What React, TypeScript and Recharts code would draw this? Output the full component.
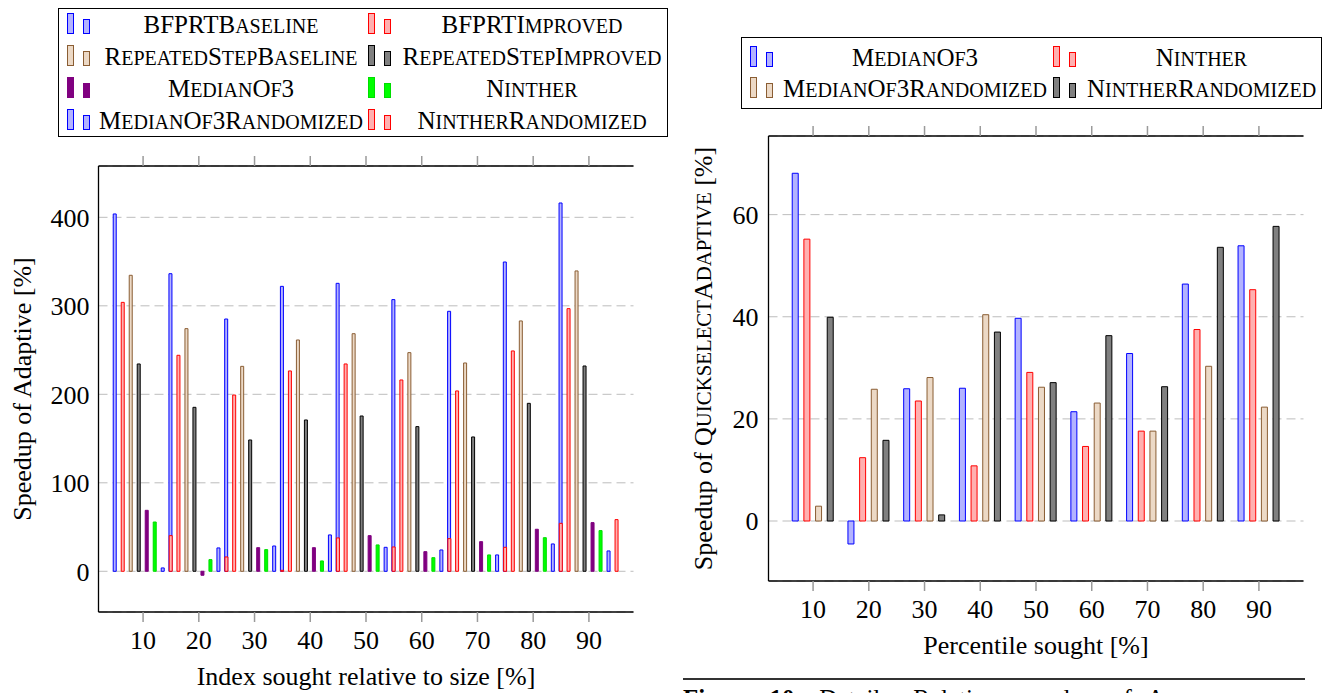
import React from 'react';
import { ComposedChart, Bar, XAxis, YAxis, CartesianGrid, Legend } from 'recharts';

const SERIF = '"Liberation Serif", "Times New Roman", serif';

// x categories (percent) and axis ticks
const percentiles = [10, 20, 30, 40, 50, 60, 70, 80, 90];
const leftYTicks = [0, 100, 200, 300, 400];
const rightYTicks = [0, 20, 40, 60];

// left figure: speedup of Adaptive [%]
const leftSeries = [
  'BFPRTBaseline',
  'BFPRTImproved',
  'RepeatedStepBaseline',
  'RepeatedStepImproved',
  'MedianOf3',
  'Ninther',
  'MedianOf3Randomized',
  'NintherRandomized',
];
const bfprtBaseline = [403.8, 336.3, 285.1, 322, 325.4, 307, 293.8, 349.5, 416.2];
const bfprtImproved = [303.9, 244.1, 199.2, 226.4, 234.3, 216.2, 203.8, 249, 296.8];
const repeatedStepBaseline = [334.5, 274.2, 231.6, 261.4, 268.5, 247.1, 235.4, 282.9, 339.4];
const repeatedStepImproved = [234.3, 185.3, 148.4, 171, 175.5, 163.5, 151.8, 189.8, 232];
const medianOf3Left = [68.9, -4.5, 26.7, 26.7, 40.3, 22.2, 33.5, 47.5, 55];
const nintherLeft = [55.7, 13.2, 24.5, 11.7, 29.8, 15.4, 18.5, 38, 46];
const medianOf3RandomizedLeft = [3.8, 26.4, 28.6, 41.1, 27.1, 24.1, 18.5, 30.9, 23];
const nintherRandomizedLeft = [40.3, 16.2, 1.1, 37.7, 27.5, 36.9, 27.1, 54.2, 58.4];

// right figure: speedup of QuickselectAdaptive [%]
const rightSeries = ['MedianOf3', 'Ninther', 'MedianOf3Randomized', 'NintherRandomized'];
const medianOf3Right = [68.1, -4.5, 25.9, 26, 39.7, 21.4, 32.8, 46.4, 53.9];
const nintherRight = [55.2, 12.4, 23.5, 10.8, 29.1, 14.6, 17.6, 37.5, 45.3];
const medianOf3RandomizedRight = [2.9, 25.8, 28.1, 40.4, 26.2, 23.1, 17.6, 30.3, 22.3];
const nintherRandomizedRight = [39.9, 15.8, 1.2, 37, 27.1, 36.3, 26.3, 53.6, 57.7];

const leftTable = [
  bfprtBaseline,
  bfprtImproved,
  repeatedStepBaseline,
  repeatedStepImproved,
  medianOf3Left,
  nintherLeft,
  medianOf3RandomizedLeft,
  nintherRandomizedLeft,
];
const rightTable = [medianOf3Right, nintherRight, medianOf3RandomizedRight, nintherRandomizedRight];

const buildRows = (names: string[], table: number[][]) =>
  percentiles.map((pct, i) => {
    const row: Record<string, number> = { pct };
    names.forEach((n, k) => (row[n] = table[k][i]));
    return row;
  });

const leftRows = buildRows(leftSeries, leftTable);
const rightRows = buildRows(rightSeries, rightTable);

// styles (pgfplots-like)
const BLUE = { fill: '#b3b3ff', stroke: '#0000ff' };
const RED = { fill: '#ffb0b0', stroke: '#ff0000' };
const BROWN = { fill: '#ecd9c6', stroke: '#8a5d33' };
const GRAY = { fill: '#808080', stroke: '#000000' };
const PURPLE = { fill: '#800080', stroke: '#800080' };
const GREEN = { fill: '#00ff00', stroke: '#00dd00' };
const leftStyles = [BLUE, RED, BROWN, GRAY, PURPLE, GREEN, BLUE, RED];
const rightStyles = [BLUE, RED, BROWN, GRAY];

const X_DOMAIN: [number, number] = [2, 98];
// the 8 bars of a group are wider than the group spacing, so each series gets its own shifted axis
const LEFT_PITCH = 8 / (535 / 96);

const LABEL_SIZE = 26;
const tickFont = { fontSize: 26, fill: '#000', fontFamily: SERIF };
const tickStroke = { stroke: '#9a9a9a', strokeWidth: 1.5 };
const innerTick = { stroke: '#8a8a8a', strokeWidth: 1.3 };
const boxLine = { stroke: '#000', strokeWidth: 1.3 };
const noLabel = () => <g />;

// LaTeX-like small caps: lower-case runs become smaller capitals
const SC = 0.8;
const scParts = (s: string) => s.match(/[a-z]+|[^a-z]+/g) ?? [s];
const ScHtml = ({ text }: { text: string }) => (
  <>
    {scParts(text).map((p, i) =>
      /^[a-z]/.test(p) ? (
        <span key={i} style={{ fontSize: `${SC}em`, textTransform: 'uppercase' }}>
          {p}
        </span>
      ) : (
        <React.Fragment key={i}>{p}</React.Fragment>
      )
    )}
  </>
);
const scSvg = (text: string) =>
  scParts(text).map((p, i) =>
    /^[a-z]/.test(p) ? (
      <tspan key={i} style={{ fontSize: `${SC}em`, textTransform: 'uppercase' }}>
        {p}
      </tspan>
    ) : (
      <tspan key={i}>{p}</tspan>
    )
  );

const LegendIcon = ({ fill, stroke }: { fill: string; stroke: string }) => (
  <svg width={24} height={24} style={{ display: 'block' }}>
    <rect x={0.5} y={0.5} width={6} height={20} fill={fill} stroke={stroke} strokeWidth={1} />
    <rect x={16.5} y={6.5} width={6} height={14} fill={fill} stroke={stroke} strokeWidth={1} />
  </svg>
);

const makeLegend =
  (names: string[], styles: { fill: string; stroke: string }[], cols: string, rowH: number, padTop: number) =>
  (props: any) => {
    const entries = [...(props.payload ?? [])].sort(
      (a: any, b: any) => names.indexOf(a.value) - names.indexOf(b.value)
    );
    return (
      <div
        style={{
          boxSizing: 'border-box',
          width: '100%',
          height: '100%',
          border: '1px solid #000',
          background: '#fff',
          display: 'grid',
          gridTemplateColumns: cols,
          gridAutoRows: rowH,
          paddingTop: padTop,
          paddingLeft: 4,
          fontFamily: SERIF,
          fontSize: 25,
          color: '#000',
        }}
      >
        {entries.map((e: any) => {
          const st = styles[names.indexOf(e.value)];
          return (
            <React.Fragment key={e.value}>
              <div style={{ display: 'flex', alignItems: 'center', paddingLeft: 4 }}>
                <LegendIcon {...st} />
              </div>
              <div style={{ display: 'flex', alignItems: 'center', justifyContent: 'center', whiteSpace: 'nowrap' }}>
                <span>
                  <ScHtml text={e.value} />
                </span>
              </div>
            </React.Fragment>
          );
        })}
      </div>
    );
  };

const yLabel = (x: number, content: React.ReactNode) => (props: any) => {
  const vb = props.viewBox;
  const cy = vb.y + vb.height / 2;
  return (
    <text
      x={x}
      y={cy}
      transform={`rotate(-90 ${x} ${cy})`}
      textAnchor="middle"
      dominantBaseline="central"
      fontSize={LABEL_SIZE}
      fill="#000"
      style={{ fontFamily: SERIF }}
    >
      {content}
    </text>
  );
};

const xLabel = (content: string) => (props: any) => {
  const vb = props.viewBox;
  return (
    <text
      x={vb.x + vb.width / 2}
      y={vb.y + 64}
      textAnchor="middle"
      dominantBaseline="central"
      fontSize={LABEL_SIZE}
      fill="#000"
      style={{ fontFamily: SERIF }}
    >
      {content}
    </text>
  );
};

function LeftChart() {
  const yDomain: [number, number] = [-46, 458];
  return (
    <ComposedChart
      width={668}
      height={693}
      data={leftRows}
      margin={{ top: 156, right: 34.5, bottom: 21, left: 0 }}
      style={{ fontFamily: SERIF }}
    >
      <CartesianGrid vertical={false} xAxisId="bottom" yAxisId="y" stroke="#bdbdbd" strokeDasharray="9 5" />
      {leftSeries.map((name, k) => (
        <XAxis
          key={name}
          xAxisId={`s${k}`}
          hide
          type="number"
          domain={X_DOMAIN}
          allowDataOverflow
          dataKey={(d: any) => d.pct + (k - 3.5) * LEFT_PITCH}
        />
      ))}
      <XAxis
        xAxisId="bottom"
        type="number"
        dataKey="pct"
        domain={X_DOMAIN}
        allowDataOverflow
        ticks={percentiles}
        interval={0}
        height={60}
        tickSize={10}
        tickMargin={9}
        tick={tickFont}
        tickLine={tickStroke}
        axisLine={boxLine}
        label={xLabel('Index sought relative to size [%]')}
      />
      <XAxis
        xAxisId="top"
        orientation="top"
        type="number"
        dataKey="pct"
        domain={X_DOMAIN}
        allowDataOverflow
        ticks={percentiles}
        interval={0}
        height={10}
        tickSize={10}
        tick={noLabel}
        tickLine={tickStroke}
        axisLine={boxLine}
      />
      <YAxis
        yAxisId="y"
        type="number"
        domain={yDomain}
        allowDataOverflow
        ticks={leftYTicks}
        interval={0}
        width={98.5}
        tickSize={0}
        tickMargin={9}
        tickLine={false}
        tick={tickFont}
        axisLine={boxLine}
        label={yLabel(22, 'Speedup of Adaptive [%]')}
      />
      <YAxis yAxisId="yl" mirror width={0} type="number" domain={yDomain} allowDataOverflow ticks={leftYTicks} interval={0} tickSize={10} tick={noLabel} tickLine={innerTick} axisLine={false} />
      <YAxis yAxisId="yr" orientation="right" mirror width={0} type="number" domain={yDomain} allowDataOverflow ticks={leftYTicks} interval={0} tickSize={10} tick={noLabel} tickLine={innerTick} axisLine={boxLine} />
      <Legend
        layout="horizontal"
        verticalAlign="middle"
        align="center"
        wrapperStyle={{ left: 58, top: 8, width: 610, height: 129 }}
        content={makeLegend(leftSeries, leftStyles, '35px 266px 35px 266px', 32, 0)}
      />
      {leftSeries.map((name, k) => (
        <Bar
          key={name}
          name={name}
          dataKey={name}
          xAxisId={`s${k}`}
          yAxisId="y"
          barSize={3}
          fill={leftStyles[k].fill}
          stroke={leftStyles[k].stroke}
          strokeWidth={1}
          isAnimationActive={false}
        />
      ))}
    </ComposedChart>
  );
}

function RightChart() {
  const yDomain: [number, number] = [-11.75, 75.4];
  return (
    <ComposedChart
      width={668}
      height={693}
      data={rightRows}
      margin={{ top: 126, right: 32.5, bottom: 52, left: 0 }}
      barGap={5.67}
      style={{ fontFamily: SERIF }}
    >
      <CartesianGrid vertical={false} xAxisId="bottom" yAxisId="y" stroke="#bdbdbd" strokeDasharray="9 5" />
      <XAxis
        xAxisId="bottom"
        type="number"
        dataKey="pct"
        domain={X_DOMAIN}
        allowDataOverflow
        ticks={percentiles}
        interval={0}
        height={60}
        tickSize={10}
        tickMargin={9}
        tick={tickFont}
        tickLine={tickStroke}
        axisLine={boxLine}
        label={xLabel('Percentile sought [%]')}
      />
      <XAxis
        xAxisId="top"
        orientation="top"
        type="number"
        dataKey="pct"
        domain={X_DOMAIN}
        allowDataOverflow
        ticks={percentiles}
        interval={0}
        height={10}
        tickSize={10}
        tick={noLabel}
        tickLine={tickStroke}
        axisLine={boxLine}
      />
      <YAxis
        yAxisId="y"
        type="number"
        domain={yDomain}
        allowDataOverflow
        ticks={rightYTicks}
        interval={0}
        width={100.5}
        tickSize={0}
        tickMargin={10}
        tickLine={false}
        tick={tickFont}
        axisLine={boxLine}
        label={yLabel(35, (
          <>
            <tspan>Speedup of </tspan>
            {scSvg('QuickselectAdaptive')}
            <tspan> [%]</tspan>
          </>
        ))}
      />
      <YAxis yAxisId="yl" mirror width={0} type="number" domain={yDomain} allowDataOverflow ticks={rightYTicks} interval={0} tickSize={10} tick={noLabel} tickLine={innerTick} axisLine={false} />
      <YAxis yAxisId="yr" orientation="right" mirror width={0} type="number" domain={yDomain} allowDataOverflow ticks={rightYTicks} interval={0} tickSize={10} tick={noLabel} tickLine={innerTick} axisLine={boxLine} />
      <Legend
        layout="horizontal"
        verticalAlign="middle"
        align="center"
        wrapperStyle={{ left: 73, top: 37, width: 581, height: 72 }}
        content={makeLegend(rightSeries, rightStyles, '35px 268px 35px 235px', 31, 4)}
      />
      {rightSeries.map((name, k) => (
        <Bar
          key={name}
          name={name}
          dataKey={name}
          xAxisId="bottom"
          yAxisId="y"
          barSize={6}
          fill={rightStyles[k].fill}
          stroke={rightStyles[k].stroke}
          strokeWidth={1}
          isAnimationActive={false}
        />
      ))}
    </ComposedChart>
  );
}

export default function App() {
  return (
    <div
      className="fig-root"
      style={{
        position: 'absolute',
        left: 0,
        top: 0,
        width: 1336,
        height: 693,
        overflow: 'hidden',
        background: '#fff',
        fontFamily: SERIF,
      }}
    >
      <style>{`.fig-root svg text { font-family: "Liberation Serif", "Times New Roman", serif; }`}</style>
      <div style={{ position: 'absolute', left: 0, top: 0 }}>
        <LeftChart />
      </div>
      <div style={{ position: 'absolute', left: 668, top: 0 }}>
        <RightChart />
      </div>
      <div style={{ position: 'absolute', left: 683, top: 678, width: 622, height: 1.5, background: '#333' }} />
      <div
        style={{
          position: 'absolute',
          left: 683,
          top: 684,
          fontSize: 25,
          lineHeight: '30px',
          whiteSpace: 'nowrap',
          wordSpacing: 10,
          color: '#000',
        }}
      >
        <b>Figure 10:</b> Details: Relative speedup of <ScHtml text="Adaptive" />
      </div>
    </div>
  );
}
